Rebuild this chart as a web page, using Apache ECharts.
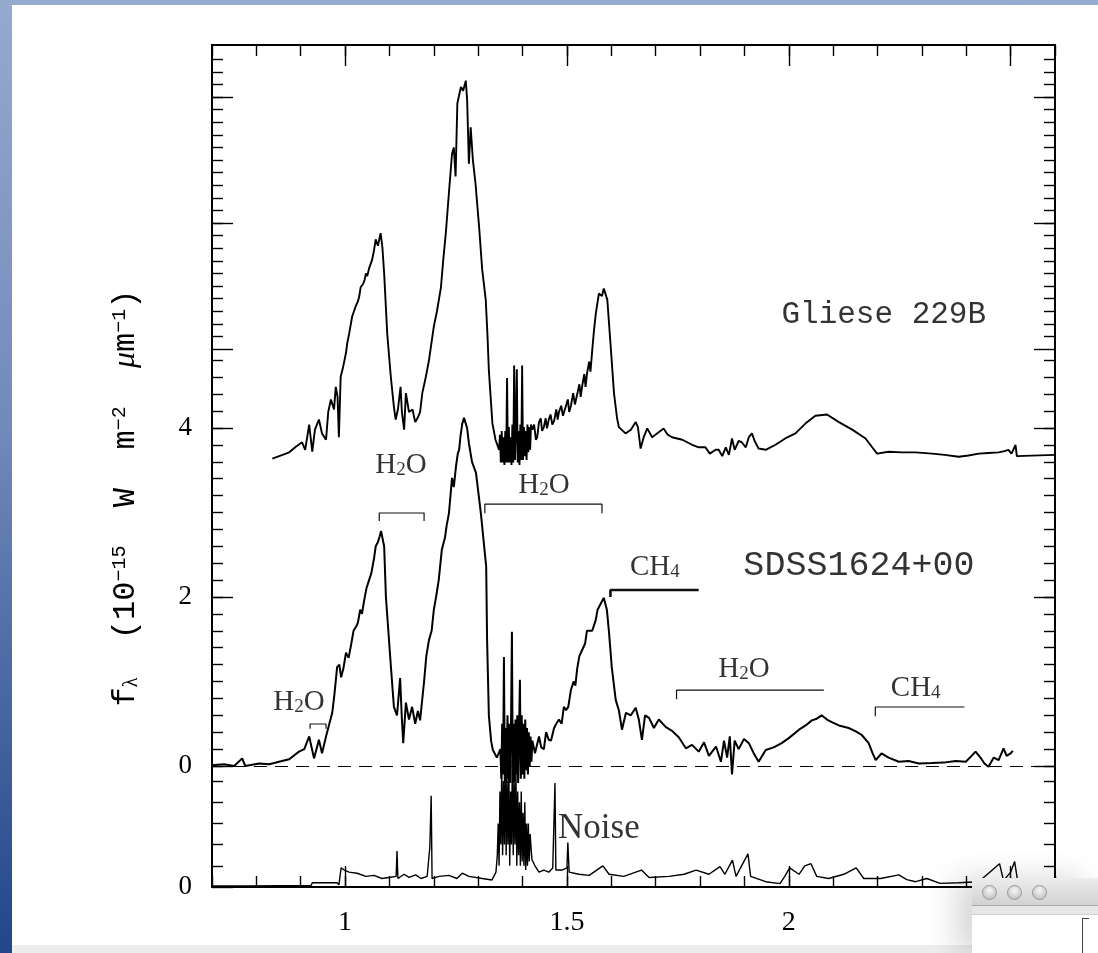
<!DOCTYPE html>
<html>
<head>
<meta charset="utf-8">
<title>Gliese 229B and SDSS1624+00 spectra</title>
<script src="https://cdn.jsdelivr.net/npm/echarts@6.0.0/dist/echarts.min.js"></script>
<style>
html, body { margin: 0; padding: 0; }
body {
    width: 1098px; height: 953px; overflow: hidden; position: relative;
    background: linear-gradient(to bottom, #96a9cf 0%, #7189bb 45%, #22468a 100%);
}
#sheet { position: absolute; left: 12px; top: 5px; right: 0; height: 940px; background: #fff; }
#bar { position: absolute; left: 12px; right: 0; top: 945px; bottom: 0; background: #ededed; }
#chart { position: absolute; left: 0; top: 0; width: 1098px; height: 953px; }
#win {
    position: absolute; left: 972px; top: 878px; width: 126px; height: 75px; background: #fff;
    box-shadow: -16px 0 30px rgba(0, 0, 0, 0.16);
}
#win .title { height: 27px; background: linear-gradient(#ededed, #d2d2d2); border-bottom: 1px solid #aaa; position: relative; }
#win .tool { height: 8px; background: #e6e6e6; border-bottom: 1px solid #cfcfcf; }
#win .dot {
    position: absolute; top: 7px; width: 13px; height: 13px; border-radius: 50%;
    background: radial-gradient(circle at 50% 35%, #f7f7f7, #b5b5b5); border: 1px solid #999;
}
#win .edge { position: absolute; left: 110px; top: 40px; width: 6px; height: 40px; border-left: 1px solid #444; border-top: 1px solid #444; }
</style>
</head>
<body>
<div id="sheet"></div>
<div id="bar"></div>
<div id="chart"></div>
<div id="win">
    <div class="title">
        <div class="dot" style="left:10px"></div>
        <div class="dot" style="left:35px"></div>
        <div class="dot" style="left:60px"></div>
    </div>
    <div class="tool"></div>
    <div class="edge"></div>
</div>
<script>
/* ---------- 数据：波长 (μm) 与流量 ---------- */

// SDSS1624+00 光谱（左轴刻度，零点为虚线）
const sdssWave = [0.698, 0.727, 0.750, 0.768, 0.775, 0.806, 0.829, 0.851, 0.874, 0.896, 0.908, 0.919, 0.930, 0.941, 0.948, 0.957,
    0.971, 0.976, 0.982, 0.987, 0.991, 0.996, 1.002, 1.008, 1.014, 1.019, 1.025, 1.029, 1.034, 1.038, 1.043, 1.048, 1.054, 1.059,
    1.065, 1.069, 1.074, 1.078, 1.081, 1.088, 1.092, 1.104, 1.110, 1.117, 1.124, 1.128, 1.131, 1.137, 1.144, 1.151, 1.158, 1.164,
    1.169, 1.178, 1.183, 1.189, 1.195, 1.200, 1.205, 1.211, 1.218, 1.225, 1.229, 1.234, 1.241, 1.245, 1.250, 1.254, 1.257, 1.260,
    1.264, 1.268, 1.275, 1.279, 1.286, 1.295, 1.306, 1.318, 1.320, 1.324, 1.329, 1.333, 1.342,
    1.350, 1.352, 1.354, 1.356, 1.358, 1.360, 1.362, 1.364, 1.366, 1.368, 1.370, 1.372, 1.374, 1.376, 1.378, 1.380, 1.382, 1.384,
    1.386, 1.388, 1.390, 1.392, 1.394, 1.396, 1.398, 1.400, 1.402, 1.404, 1.406, 1.408, 1.410, 1.412, 1.414, 1.416, 1.418, 1.420,
    1.422, 1.428, 1.437, 1.442, 1.448, 1.453, 1.459, 1.464, 1.471, 1.476, 1.482, 1.488, 1.493, 1.498, 1.503, 1.509, 1.515, 1.519,
    1.523, 1.528, 1.534, 1.541, 1.545, 1.550, 1.557, 1.565, 1.569, 1.574, 1.583, 1.590, 1.595, 1.601, 1.610, 1.617, 1.624, 1.633,
    1.644, 1.655, 1.662, 1.669, 1.676, 1.685, 1.696,
    1.707, 1.723, 1.736, 1.752, 1.768, 1.782, 1.797, 1.809, 1.820, 1.836, 1.847, 1.854, 1.861, 1.867, 1.872, 1.878, 1.887, 1.899,
    1.910, 1.921, 1.932, 1.948, 1.966, 1.984, 2.000, 2.023, 2.038, 2.052, 2.063, 2.074, 2.086, 2.097, 2.113, 2.135, 2.151, 2.164,
    2.180, 2.189, 2.196, 2.209, 2.225, 2.248, 2.270, 2.293, 2.322, 2.349, 2.376, 2.399, 2.412, 2.421, 2.432, 2.441, 2.450, 2.462,
    2.473, 2.484, 2.491, 2.500, 2.505];
const sdssFlux = [0.01, 0.02, 0.0, 0.09, 0.0, 0.03, 0.02, 0.05, 0.08, 0.17, 0.2, 0.35, 0.09, 0.31, 0.15, 0.35,
    0.63, 0.85, 1.17, 1.2, 1.05, 1.15, 1.34, 1.28, 1.45, 1.6, 1.65, 1.7, 1.85, 1.8, 1.96, 2.1, 2.2, 2.28,
    2.45, 2.6, 2.65, 2.72, 2.78, 2.6, 2.0, 1.12, 0.7, 0.6, 1.04, 0.55, 0.27, 0.75, 0.55, 0.7, 0.5, 0.65,
    0.54, 1.0, 1.3, 1.49, 1.6, 1.85, 2.0, 2.2, 2.56, 2.7, 2.85, 2.99, 3.41, 3.3, 3.55, 3.7, 3.74, 3.9,
    4.05, 4.12, 4.0, 3.82, 3.6, 3.47, 2.99, 2.36, 1.5, 0.6, 0.3, 0.19, 0.1,
    0.2, -0.15, 0.5, -0.1, 1.29, -0.2, 0.45, -0.2, 0.6, -0.15, 0.5, -0.2, 0.55, 1.59, -0.2, 0.5, -0.18, 0.55,
    -0.1, 0.6, -0.2, 0.4, 1.02, -0.15, 0.6, -0.1, 0.5, -0.15, 0.55, -0.05, 0.45, -0.1, 0.4, 0.0, 0.35, 0.05,
    0.3, 0.15, 0.35, 0.22, 0.2, 0.4, 0.31, 0.3, 0.45, 0.5, 0.55, 0.5, 0.7, 0.66, 0.7, 0.9, 1.0, 0.95,
    1.15, 1.3, 1.37, 1.45, 1.6, 1.6, 1.6, 1.73, 1.85, 1.9, 1.99, 1.85, 1.57, 1.17, 0.78, 0.66, 0.43, 0.63,
    0.6, 0.69, 0.55, 0.31, 0.6, 0.57, 0.45,
    0.55, 0.46, 0.42, 0.34, 0.21, 0.25, 0.17, 0.28, 0.12, 0.23, 0.05, 0.3, 0.1, 0.35, -0.1, 0.3, 0.2, 0.32,
    0.27, 0.15, 0.05, 0.19, 0.22, 0.27, 0.33, 0.43, 0.48, 0.54, 0.56, 0.6, 0.55, 0.52, 0.48, 0.45, 0.41, 0.37,
    0.27, 0.15, 0.07, 0.15, 0.1, 0.05, 0.06, 0.03, 0.035, 0.04, 0.06, 0.05, 0.12, 0.17, 0.1, 0.03, -0.01, 0.1,
    0.07, 0.21, 0.12, 0.15, 0.18];

// Gliese 229B 光谱（上方独立刻度）
const glieseWave = [0.836, 0.859, 0.874, 0.889, 0.903, 0.910, 0.919, 0.926, 0.932, 0.941, 0.948, 0.957, 0.962, 0.968, 0.975,
    0.979, 0.983, 0.986, 0.990, 0.995, 0.998, 1.002, 1.005, 1.009, 1.013, 1.016, 1.020, 1.024, 1.029, 1.032, 1.035, 1.041, 1.044,
    1.047, 1.050, 1.054, 1.058, 1.061, 1.065, 1.069, 1.074, 1.080, 1.084, 1.088, 1.095, 1.103, 1.110, 1.114, 1.119, 1.125, 1.128,
    1.133, 1.137, 1.144, 1.152, 1.158, 1.163, 1.169, 1.174, 1.182, 1.189, 1.200, 1.207, 1.216, 1.221, 1.227, 1.234, 1.241, 1.245,
    1.249, 1.253, 1.261, 1.266, 1.272, 1.275, 1.279, 1.283, 1.288, 1.294, 1.302, 1.309, 1.317, 1.321, 1.324, 1.332, 1.339,
    1.347, 1.349, 1.351, 1.353, 1.355, 1.357, 1.359, 1.361, 1.363, 1.365, 1.367, 1.369, 1.371, 1.373, 1.375, 1.377, 1.379, 1.381,
    1.383, 1.385, 1.387, 1.389, 1.391, 1.393, 1.395, 1.397, 1.399, 1.401, 1.403, 1.405, 1.407, 1.409, 1.411, 1.413, 1.415, 1.417,
    1.419, 1.422, 1.426, 1.430, 1.433, 1.437, 1.441, 1.444, 1.448, 1.452, 1.455, 1.459, 1.463, 1.467, 1.471, 1.476, 1.479, 1.482,
    1.487, 1.491, 1.497, 1.502, 1.505, 1.509, 1.514, 1.518, 1.523, 1.528, 1.531, 1.534, 1.539, 1.542, 1.545, 1.550, 1.553, 1.557,
    1.561, 1.565, 1.572, 1.579, 1.583, 1.591, 1.598, 1.606, 1.613, 1.617, 1.632,
    1.644, 1.655, 1.660, 1.666, 1.673, 1.681, 1.692, 1.703, 1.718, 1.727, 1.737, 1.760, 1.782, 1.797, 1.812, 1.822, 1.835, 1.842,
    1.850, 1.858, 1.865, 1.872, 1.878, 1.887, 1.894, 1.903, 1.910, 1.917, 1.923, 1.932, 1.948, 1.970, 1.992, 2.015, 2.038, 2.060,
    2.086, 2.113, 2.143, 2.173, 2.188, 2.199, 2.225, 2.255, 2.285, 2.323, 2.351, 2.383, 2.405, 2.428, 2.450, 2.473, 2.486, 2.495,
    2.502, 2.511, 2.514, 2.518, 2.600];
const glieseFlux = [0.13, 0.16, 0.18, 0.225, 0.26, 0.2, 0.40, 0.185, 0.36, 0.44, 0.33, 0.28, 0.5, 0.6, 0.52,
    0.7, 0.62, 0.30, 0.78, 0.85, 0.9, 0.97, 1.05, 1.12, 1.2, 1.26, 1.3, 1.34, 1.38, 1.42, 1.49, 1.52, 1.55,
    1.60, 1.58, 1.64, 1.68, 1.71, 1.78, 1.87, 1.82, 1.92, 1.81, 1.60, 1.12, 0.78, 0.54, 0.44, 0.52, 0.70, 0.5,
    0.36, 0.65, 0.5, 0.52, 0.42, 0.45, 0.5, 0.65, 0.78, 0.91, 1.18, 1.3, 1.49, 1.7, 1.92, 2.24, 2.55, 2.6,
    2.37, 2.95, 3.08, 3.05, 3.13, 2.98, 2.47, 2.76, 2.5, 2.31, 1.97, 1.63, 1.39, 1.1, 0.83, 0.41, 0.28,
    0.2, 0.32, 0.1, 0.35, 0.1, 0.3, 0.08, 0.35, 0.1, 0.77, 0.1, 0.38, 0.1, 0.3, 0.08, 0.4, 0.1, 0.87,
    0.12, 0.38, 0.84, 0.1, 0.35, 0.08, 0.4, 0.12, 0.87, 0.12, 0.38, 0.15, 0.35, 0.12, 0.4, 0.18, 0.38, 0.2,
    0.4, 0.36, 0.4, 0.28, 0.3, 0.42, 0.45, 0.35, 0.38, 0.45, 0.37, 0.44, 0.48, 0.4, 0.43, 0.52, 0.44, 0.5,
    0.55, 0.47, 0.54, 0.6, 0.5, 0.55, 0.65, 0.56, 0.64, 0.72, 0.62, 0.70, 0.8, 0.7, 0.8, 0.9, 0.82, 0.99,
    1.15, 1.28, 1.44, 1.42, 1.48, 1.39, 1.05, 0.65, 0.45, 0.38, 0.33,
    0.36, 0.42, 0.38, 0.21, 0.3, 0.37, 0.30, 0.33, 0.37, 0.32, 0.30, 0.28, 0.24, 0.22, 0.22, 0.17, 0.20, 0.2,
    0.15, 0.22, 0.16, 0.29, 0.2, 0.27, 0.26, 0.22, 0.3, 0.33, 0.27, 0.21, 0.20, 0.24, 0.29, 0.33, 0.41, 0.47,
    0.48, 0.42, 0.36, 0.29, 0.22, 0.17, 0.185, 0.18, 0.18, 0.17, 0.16, 0.145, 0.155, 0.17, 0.175, 0.18, 0.19, 0.2,
    0.17, 0.24, 0.15, 0.16, 0.16];

// 噪声谱（底部独立刻度）
const noiseWave = [0.698, 0.784, 0.851, 0.923, 0.926, 0.982, 0.986, 0.991, 0.998, 1.009, 1.027, 1.047, 1.065, 1.083, 1.099,
    1.115, 1.117, 1.119, 1.133, 1.144, 1.159, 1.171, 1.185, 1.191, 1.194, 1.196, 1.212, 1.234, 1.252, 1.264, 1.279, 1.309, 1.331,
    1.340, 1.343, 1.345, 1.347, 1.349, 1.351, 1.353, 1.355, 1.357, 1.359, 1.361, 1.363, 1.365, 1.367, 1.369, 1.371, 1.373, 1.375,
    1.377, 1.379, 1.381, 1.383, 1.385, 1.387, 1.389, 1.391, 1.393, 1.395, 1.397, 1.399, 1.401, 1.403, 1.405, 1.407, 1.409, 1.411,
    1.413, 1.415, 1.417, 1.421, 1.428, 1.437, 1.448, 1.459,
    1.468, 1.473, 1.475, 1.489, 1.500, 1.502, 1.505, 1.527, 1.550, 1.581, 1.595, 1.628, 1.668, 1.685, 1.730, 1.764, 1.791, 1.820,
    1.845, 1.856, 1.873, 1.881, 1.908, 1.914, 1.948, 1.980, 1.991, 2.002, 2.023, 2.036, 2.050, 2.063, 2.090, 2.124, 2.152, 2.169,
    2.207, 2.248, 2.266, 2.286, 2.311, 2.341, 2.383, 2.428, 2.475, 2.484, 2.500, 2.509, 2.515];
const noiseFlux = [0.005, 0.005, 0.006, 0.006, 0.02, 0.02, 0.01, 0.09, 0.08, 0.07, 0.065, 0.05, 0.055, 0.04, 0.045,
    0.05, 0.17, 0.04, 0.06, 0.045, 0.057, 0.04, 0.05, 0.19, 0.43, 0.04, 0.05, 0.055, 0.04, 0.065, 0.05, 0.04, 0.033,
    0.07, 0.15, 0.3, 0.1, 0.45, 0.2, 0.55, 0.15, 0.5, 0.2, 0.6, 0.15, 0.5, 0.2, 0.55, 0.1, 0.45, 0.2,
    0.6, 0.15, 0.5, 0.2, 0.55, 0.1, 0.45, 0.15, 0.4, 0.1, 0.45, 0.12, 0.35, 0.1, 0.4, 0.08, 0.3, 0.1,
    0.3, 0.12, 0.25, 0.13, 0.1, 0.07, 0.08, 0.07,
    0.09, 0.49, 0.08, 0.08, 0.09, 0.21, 0.07, 0.06, 0.055, 0.1, 0.06, 0.05, 0.08, 0.045, 0.05, 0.06, 0.08, 0.06,
    0.096, 0.06, 0.127, 0.05, 0.156, 0.05, 0.025, 0.016, 0.05, 0.09, 0.06, 0.1, 0.11, 0.05, 0.04, 0.06, 0.09, 0.04,
    0.04, 0.057, 0.035, 0.025, 0.04, 0.017, 0.02, 0.025, 0.11, 0.03, 0.07, 0.12, 0.04];

// 吸收带标注（SDSS 刻度）
const bandStart = [0.921, 1.077, 1.315, 1.598, 1.747, 2.195];
const bandEnd = [0.957, 1.178, 1.579, 1.797, 2.079, 2.396];
const bandLevel = [0.497, 2.994, 3.10, 2.083, 0.899, 0.698];
const bandFoot = [0.44, 2.90, 2.99, 2.00, 0.79, 0.59];
const bandRightFoot = [true, true, true, false, false, false];

// 文字标注
const noteText = ['H{sub|2}O', 'H{sub|2}O', 'H{sub|2}O', 'CH{sub|4}', 'H{sub|2}O', 'CH{sub|4}', 'SDSS1624+00', 'Gliese 229B', 'Noise'];
const noteX = [0.896, 1.126, 1.448, 1.698, 1.899, 2.286, 2.158, 2.214, 1.572];
const noteY = [0.757, 3.56, 3.325, 2.355, 1.148, 0.923, 2.367, 5.337, -0.746];

// 刻度
const xLabelValues = [1, 1.5, 2];
const xMajorTicks = [1, 1.5, 2, 2.5];
const sdssLabels = [0, 2, 4];
const noiseLabels = [0];
const glieseMajor = [1, 2, 3];

function steps(from, to, step) {
    const out = [];
    for (let v = from; v <= to + 1e-9; v += step) out.push(+v.toFixed(3));
    return out;
}
function zip(xs, ys) {
    return xs.map((x, i) => [x, ys[i]]);
}

/* ---------- 坐标轴 ---------- */
const SERIF = '"Liberation Serif", "DejaVu Serif", serif';
const MONO = '"Liberation Mono", "DejaVu Sans Mono", monospace';
const tickStyle = { color: "#000", width: 1.4 };
const noLine = { show: false, onZero: false };

function xAxisPair(position, showLabels) {
    const base = { type: "value", min: 0.7, max: 2.6, position: position, splitLine: { show: false }, axisLine: noLine };
    return [
        Object.assign({}, base, {
            interval: 0.1,
            axisTick: { inside: true, length: 11, lineStyle: tickStyle },
            axisLabel: showLabels
                ? { customValues: xLabelValues, margin: 22, color: "#000", fontSize: 28, fontFamily: SERIF }
                : { show: false },
        }),
        Object.assign({}, base, {
            axisTick: { inside: true, length: 21, customValues: xMajorTicks, lineStyle: tickStyle },
            axisLabel: { show: false },
        }),
    ];
}

function yScale(min, max, minor, major, labels) {
    const base = { type: "value", min: min, max: max, splitLine: { show: false }, axisLine: noLine };
    const out = [];
    ["left", "right"].forEach(pos => {
        out.push(Object.assign({}, base, {
            position: pos,
            axisTick: { inside: true, length: 11, customValues: minor, lineStyle: tickStyle },
            axisLabel: pos === "left" && labels.length
                ? { customValues: labels, margin: 20, color: "#000", fontSize: 27, fontFamily: SERIF }
                : { show: false },
        }));
        out.push(Object.assign({}, base, {
            position: pos,
            axisTick: { inside: true, length: 21, customValues: major, lineStyle: tickStyle },
            axisLabel: { show: false },
        }));
    });
    return out;
}

// 0: SDSS, 4: 噪声, 8: Gliese
const yAxes = [].concat(
    yScale(-1.432, 8.533, steps(0, 4.8, 0.2), [0, 2, 4], sdssLabels),
    yScale(0, 3.972, steps(0.1, 0.5, 0.1), [0], noiseLabels),
    yScale(-3.27, 3.413, steps(1.1, 3.3, 0.1), glieseMajor, [])
);
const Y_SDSS = 0, Y_NOISE = 4, Y_GLIESE = 8;

/* ---------- 系列 ---------- */
const spectrumStyle = (w) => ({ type: "line", showSymbol: false, symbol: "none", silent: true, animation: false, sampling: null,
    lineStyle: { color: "#000", width: w } });

const bandSeries = bandStart.map((x1, i) => {
    const pts = [[x1, bandFoot[i]], [x1, bandLevel[i]], [bandEnd[i], bandLevel[i]]];
    if (bandRightFoot[i]) pts.push([bandEnd[i], bandFoot[i]]);
    return {
        type: "line", data: pts, yAxisIndex: Y_SDSS, showSymbol: false, symbol: "none", silent: true, animation: false,
        lineStyle: { color: "#111", width: i === 3 ? 2.6 : 1.2 },
    };
});

const noteFonts = [SERIF, SERIF, SERIF, SERIF, SERIF, SERIF, MONO, MONO, SERIF];
const noteSizes = [29, 29, 29, 29, 29, 29, 35, 31, 35];

const noteSeries = {
    type: "scatter", yAxisIndex: Y_SDSS, symbolSize: 0, silent: true, animation: false,
    data: noteText.map((t, i) => ({
        value: [noteX[i], noteY[i]],
        label: {
            show: true, position: "inside", formatter: t, color: "#000",
            fontSize: noteSizes[i], fontFamily: noteFonts[i],
            rich: { sub: { fontSize: 19, fontFamily: SERIF, color: "#000", verticalAlign: "bottom", lineHeight: 10 } },
        },
    })),
};

const option = {
    animation: false,
    grid: { left: 212, top: 45, right: 43, bottom: 66, show: true, borderColor: "#000", borderWidth: 2, backgroundColor: "transparent" },
    xAxis: [].concat(xAxisPair("bottom", true), xAxisPair("top", false)),
    yAxis: yAxes,
    graphic: [{
        type: "text", x: 126, y: 498, rotation: Math.PI / 2, silent: true,
        style: {
            text: "f{sub|λ}  (10{sup|−15}  W  m{sup|−2}  {mu|μ}m{sup|−1})",
            fontSize: 32, fontFamily: MONO, fill: "#000", align: "center", verticalAlign: "middle",
            rich: {
                sub: { fontSize: 20, fontFamily: SERIF, verticalAlign: "bottom", lineHeight: 12 },
                sup: { fontSize: 20, fontFamily: MONO, verticalAlign: "top", lineHeight: 12 },
                mu: { fontSize: 32, fontFamily: SERIF, fontStyle: "italic" },
            },
        },
    }],
    series: [
        Object.assign(spectrumStyle(2), {
            name: "SDSS1624+00", yAxisIndex: Y_SDSS, data: zip(sdssWave, sdssFlux),
            markLine: {
                silent: true, symbol: ["none", "none"], label: { show: false },
                lineStyle: { color: "#000", width: 1, type: [13, 8] },
                data: [{ yAxis: 0 }],
            },
        }),
        Object.assign(spectrumStyle(1.9), { name: "Gliese 229B", yAxisIndex: Y_GLIESE, data: zip(glieseWave, glieseFlux) }),
        Object.assign(spectrumStyle(1.4), { name: "Noise", yAxisIndex: Y_NOISE, data: zip(noiseWave, noiseFlux) }),
    ].concat(bandSeries, [noteSeries]),
};

const chart = echarts.init(document.getElementById("chart"));
chart.setOption(option);
</script>
</body>
</html>
